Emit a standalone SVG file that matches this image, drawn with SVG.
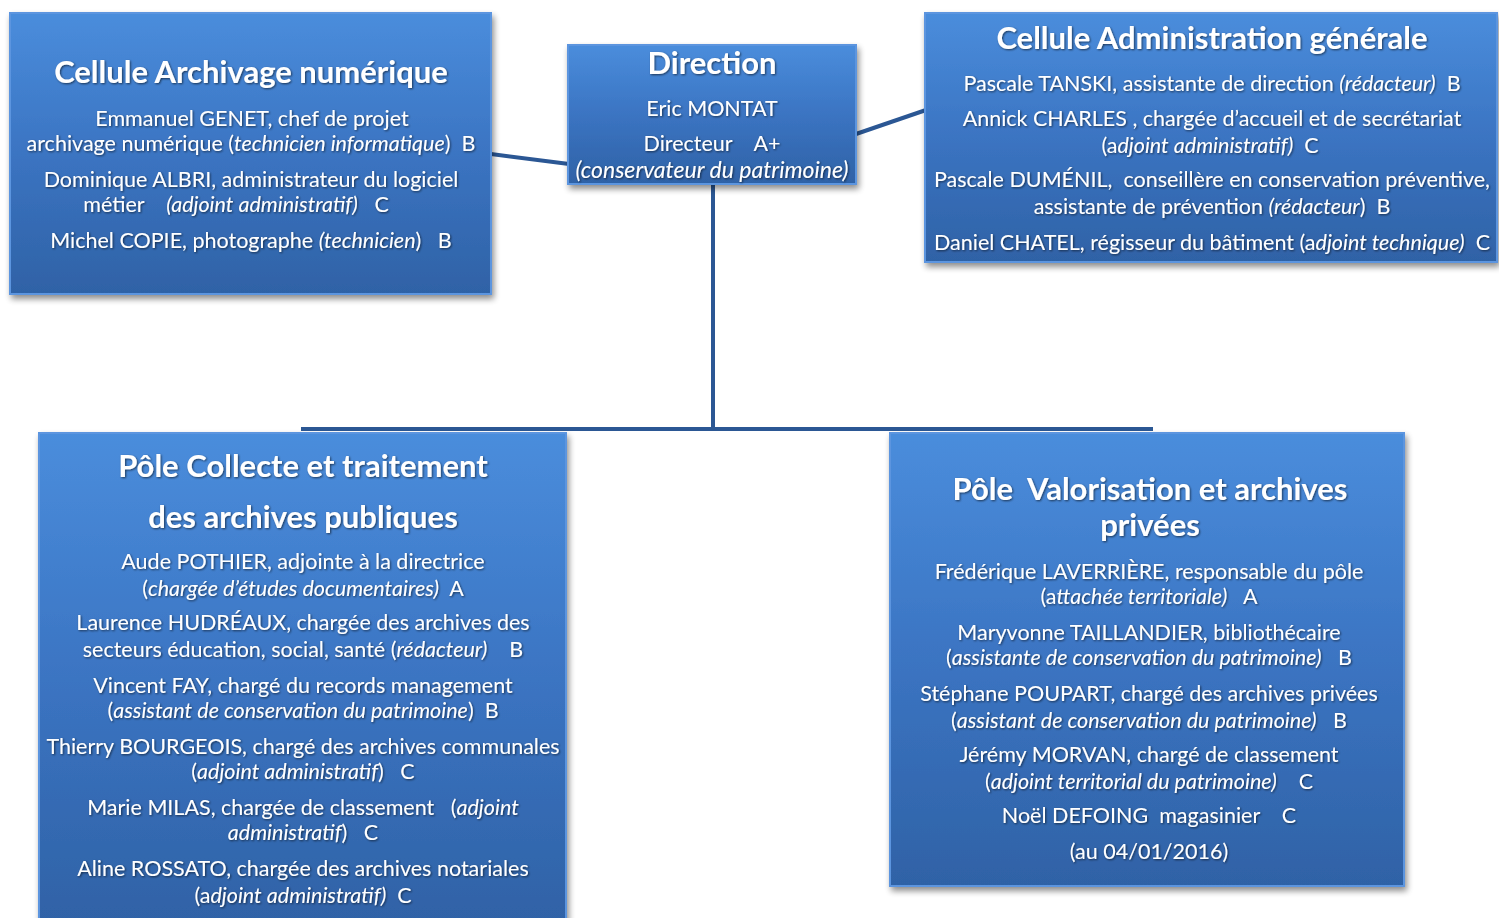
<svg xmlns="http://www.w3.org/2000/svg" width="1499" height="918" viewBox="0 0 1499 918">
<defs>
<linearGradient id="g" x1="0" y1="0" x2="0" y2="1">
<stop offset="0" stop-color="#4a8ddc"/>
<stop offset="0.5" stop-color="#3b74c2"/>
<stop offset="1" stop-color="#2f62a6"/>
</linearGradient>
<filter id="sh" x="-5%" y="-5%" width="112%" height="115%">
<feGaussianBlur in="SourceAlpha" stdDeviation="3"/>
<feOffset dx="2" dy="4" result="b"/>
<feComponentTransfer><feFuncA type="linear" slope="0.45"/></feComponentTransfer>
<feMerge><feMergeNode/><feMergeNode in="SourceGraphic"/></feMerge>
</filter>
<filter id="ts" x="-5%" y="-20%" width="110%" height="140%">
<feGaussianBlur in="SourceAlpha" stdDeviation="1"/>
<feOffset dx="1" dy="1"/>
<feComponentTransfer><feFuncA type="linear" slope="0.6"/></feComponentTransfer>
<feMerge><feMergeNode/><feMergeNode in="SourceGraphic"/></feMerge>
</filter>
</defs>
<style>
.box{fill:url(#g);stroke:#5b95df;stroke-width:2;filter:url(#sh)}
.t{font-family:Lato,"Liberation Sans",sans-serif;fill:#fff;text-anchor:middle;filter:url(#ts)}
.h{font-size:31px;font-weight:bold}
.b{font-size:21.5px}
.i{font-style:italic}
.c{stroke:#2b5794;stroke-width:4;fill:none}
</style>
<rect width="1499" height="918" fill="#fff"/>
<g id="connectors">
<line class="c" x1="491" y1="154" x2="569" y2="164"/>
<line class="c" x1="856" y1="134" x2="926" y2="110"/>
<line class="c" x1="713" y1="184" x2="713" y2="430"/>
<line class="c" x1="301" y1="429" x2="1153" y2="429"/>
</g>
<g id="archivage">
<rect class="box" x="10" y="13" width="481" height="281"/>
<g class="t">
<text class="h" x="251" y="83">Cellule Archivage numérique</text>
<text class="b" x="252" y="126">Emmanuel GENET, chef de projet</text>
<text class="b" x="251" y="151">archivage numérique (<tspan class="i">technicien informatique</tspan>) &#160;B</text>
<text class="b" x="251" y="187">Dominique ALBRI, administrateur du logiciel</text>
<text class="b" x="236" y="212">métier &#160;&#160;&#160;<tspan class="i">(adjoint administratif)</tspan> &#160;&#160;C</text>
<text class="b" x="251" y="248">Michel COPIE, photographe <tspan class="i">(technicien</tspan>) &#160;&#160;B</text>
</g>
</g>
<g id="direction">
<rect class="box" x="568" y="45" width="288" height="139"/>
<g class="t">
<text class="h" x="712" y="74">Direction</text>
<text class="b" x="712" y="116">Eric MONTAT</text>
<text class="b" x="712" y="151">Directeur &#160;&#160;&#160;A+</text>
<text class="b i" x="712" y="178" style="font-size:23px">(conservateur du patrimoine)</text>
</g>
</g>
<g id="administration">
<rect class="box" x="925" y="13" width="572" height="249"/>
<g class="t">
<text class="h" x="1212" y="49">Cellule Administration générale</text>
<text class="b" x="1212" y="91">Pascale TANSKI, assistante de direction <tspan class="i">(rédacteur)</tspan> &#160;B</text>
<text class="b" x="1212" y="126">Annick CHARLES , chargée d’accueil et de secrétariat</text>
<text class="b" x="1210" y="153">(a<tspan class="i">djoint administratif)</tspan> &#160;C</text>
<text class="b" x="1212" y="187">Pascale DUMÉNIL, &#160;conseillère en conservation préventive,</text>
<text class="b" x="1212" y="214">assistante de prévention <tspan class="i">(rédacteur</tspan>) &#160;B</text>
<text class="b" x="1212" y="250">Daniel CHATEL, régisseur du bâtiment (a<tspan class="i">djoint technique)</tspan> &#160;C</text>
</g>
</g>
<g id="collecte">
<rect class="box" x="39" y="433" width="527" height="492"/>
<g class="t">
<text class="h" x="303" y="477">Pôle Collecte et traitement</text>
<text class="h" x="303" y="528">des archives publiques</text>
<text class="b" x="303" y="569">Aude POTHIER, adjointe à la directrice</text>
<text class="b" x="303" y="596">(<tspan class="i">chargée d’études documentaires)</tspan> &#160;A</text>
<text class="b" x="303" y="630">Laurence HUDRÉAUX, chargée des archives des</text>
<text class="b" x="303" y="657">secteurs éducation, social, santé (<tspan class="i">rédacteur)</tspan> &#160;&#160;&#160;B</text>
<text class="b" x="303" y="693">Vincent FAY, chargé du records management</text>
<text class="b" x="303" y="718">(<tspan class="i">assistant de conservation du patrimoine</tspan>) &#160;B</text>
<text class="b" x="303" y="754">Thierry BOURGEOIS, chargé des archives communales</text>
<text class="b" x="303" y="779">(<tspan class="i">adjoint administratif</tspan>) &#160;&#160;C</text>
<text class="b" x="303" y="815">Marie MILAS, chargée de classement &#160;&#160;(<tspan class="i">adjoint</tspan></text>
<text class="b" x="303" y="840"><tspan class="i">administratif</tspan>) &#160;&#160;C</text>
<text class="b" x="303" y="876">Aline ROSSATO, chargée des archives notariales</text>
<text class="b" x="303" y="903">(a<tspan class="i">djoint administratif)</tspan> &#160;C</text>
</g>
</g>
<g id="valorisation">
<rect class="box" x="890" y="433" width="514" height="453"/>
<g class="t">
<text class="h" x="1150" y="500">Pôle &#160;Valorisation et archives</text>
<text class="h" x="1150" y="536">privées</text>
<text class="b" x="1149" y="579">Frédérique LAVERRIÈRE, responsable du pôle</text>
<text class="b" x="1149" y="604">(a<tspan class="i">ttachée territoriale)</tspan> &#160;&#160;A</text>
<text class="b" x="1149" y="640">Maryvonne TAILLANDIER, bibliothécaire</text>
<text class="b" x="1149" y="665">(<tspan class="i">assistante de conservation du patrimoine)</tspan> &#160;&#160;B</text>
<text class="b" x="1149" y="701">Stéphane POUPART, chargé des archives privées</text>
<text class="b" x="1149" y="728">(<tspan class="i">assistant de conservation du patrimoine)</tspan> &#160;&#160;B</text>
<text class="b" x="1149" y="762">Jérémy MORVAN, chargé de classement</text>
<text class="b" x="1149" y="789">(<tspan class="i">adjoint territorial du patrimoine)</tspan> &#160;&#160;&#160;C</text>
<text class="b" x="1149" y="823">Noël DEFOING &#160;magasinier &#160;&#160;&#160;C</text>
<text class="b" x="1149" y="859">(au 04/01/2016)</text>
</g>
</g>
</svg>
